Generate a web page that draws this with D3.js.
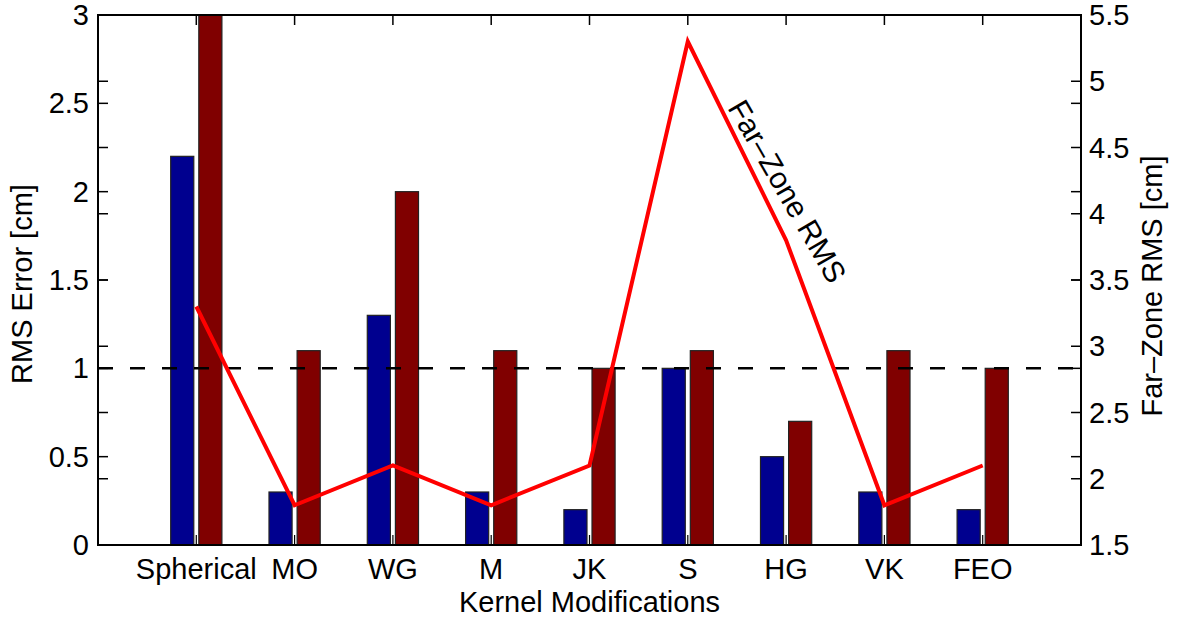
<!DOCTYPE html>
<html>
<head>
<meta charset="utf-8">
<script src="https://cdn.jsdelivr.net/npm/d3@7"></script>
<style>
  body { margin: 0; background: #fff; }
  text { font-family: "Liberation Sans", Arial, Helvetica, sans-serif; fill: #000; }
</style>
</head>
<body>
<div id="chart"></div>
<script>
// kernel modifications along the x axis
var categories = ["Spherical", "MO", "WG", "M", "JK", "S", "HG", "VK", "FEO"];
// left axis: RMS error bars [cm]
var blueValues = [2.2, 0.3, 1.3, 0.3, 0.2, 1.0, 0.5, 0.3, 0.2];
var redValues = [3.0, 1.1, 2.0, 1.1, 1.0, 1.1, 0.7, 1.1, 1.0];
// right axis: far-zone RMS line [cm]
var farZone = [3.3, 1.8, 2.1, 1.8, 2.1, 5.3, 3.8, 1.8, 2.1];
var leftTicks = [0, 0.5, 1, 1.5, 2, 2.5, 3];
var rightTicks = [1.5, 2, 2.5, 3, 3.5, 4, 4.5, 5, 5.5];
var threshold = 1;

var W = 1179, H = 620;
var margin = { top: 15, right: 98, bottom: 75, left: 98 },
  width = W - margin.left - margin.right,
  height = H - margin.top - margin.bottom;

var x = d3.scaleLinear().domain([0, 10]).range([0, width]);
var y0 = d3.scaleLinear().domain([0, 3]).range([height, 0]);
var y1 = d3.scaleLinear().domain([1.5, 5.5]).range([height, 0]);

var svg = d3
  .select("#chart")
  .append("svg")
  .attr("width", W)
  .attr("height", H)
  .append("g")
  .attr("transform", `translate(${margin.left},${margin.top})`);

var barW = 0.235, off = 0.143;

// bottom category ticks (behind bars)
svg
  .append("g")
  .selectAll("line")
  .data(categories)
  .enter()
  .append("line")
  .attr("x1", function (d, i) { return x(i + 1); })
  .attr("x2", function (d, i) { return x(i + 1); })
  .attr("y1", height)
  .attr("y2", height - 10)
  .style("stroke", "#000")
  .style("stroke-width", 1.2);

// bars
svg
  .append("g")
  .selectAll("rect")
  .data(blueValues)
  .enter()
  .append("rect")
  .attr("x", function (d, i) { return x(i + 1 - off - barW / 2); })
  .attr("width", x(barW) - x(0))
  .attr("y", function (d) { return y0(d); })
  .attr("height", function (d) { return height - y0(d); })
  .style("fill", "#00008f")
  .style("stroke", "#222")
  .style("stroke-width", 1.2);

svg
  .append("g")
  .selectAll("rect")
  .data(redValues)
  .enter()
  .append("rect")
  .attr("x", function (d, i) { return x(i + 1 + off - barW / 2); })
  .attr("width", x(barW) - x(0))
  .attr("y", function (d) { return y0(d); })
  .attr("height", function (d) { return height - y0(d); })
  .style("fill", "#800000")
  .style("stroke", "#222")
  .style("stroke-width", 1.2);

// dashed threshold
svg
  .append("line")
  .attr("x1", 0)
  .attr("x2", width)
  .attr("y1", y0(threshold))
  .attr("y2", y0(threshold))
  .style("stroke", "#000")
  .style("stroke-width", 2.5)
  .style("stroke-dasharray", "15,17");

// far-zone line
svg
  .append("path")
  .datum(farZone)
  .attr(
    "d",
    d3
      .line()
      .x(function (d, i) { return x(i + 1); })
      .y(function (d) { return y1(d); })
  )
  .style("stroke", "#ff0000")
  .style("stroke-width", 4)
  .style("fill", "none");

// axes box
svg
  .append("rect")
  .attr("x", 0)
  .attr("y", 0)
  .attr("width", width)
  .attr("height", height)
  .style("fill", "none")
  .style("stroke", "#000")
  .style("stroke-width", 2);

// ticks: both y scales on both sides, inward
function sideTicks(vals, scale) {
  [0, width].forEach(function (sx) {
    svg
      .append("g")
      .selectAll("line")
      .data(vals)
      .enter()
      .append("line")
      .attr("x1", sx)
      .attr("x2", sx === 0 ? 10 : width - 10)
      .attr("y1", function (d) { return scale(d); })
      .attr("y2", function (d) { return scale(d); })
      .style("stroke", "#000")
      .style("stroke-width", 1.5);
  });
}
sideTicks(leftTicks, y0);
sideTicks(rightTicks, y1);

// top category ticks
svg
  .append("g")
  .selectAll("line")
  .data(categories)
  .enter()
  .append("line")
  .attr("x1", function (d, i) { return x(i + 1); })
  .attr("x2", function (d, i) { return x(i + 1); })
  .attr("y1", 0)
  .attr("y2", 10)
  .style("stroke", "#000")
  .style("stroke-width", 1.5);

var fs = "29px";

// tick labels
svg
  .append("g")
  .selectAll("text")
  .data(leftTicks)
  .enter()
  .append("text")
  .attr("x", -9)
  .attr("y", function (d) { return y0(d) + 10; })
  .attr("text-anchor", "end")
  .style("font-size", fs)
  .text(function (d) { return d3.format("")(d); });

svg
  .append("g")
  .selectAll("text")
  .data(rightTicks)
  .enter()
  .append("text")
  .attr("x", width + 8)
  .attr("y", function (d) { return y1(d) + 10; })
  .attr("text-anchor", "start")
  .style("font-size", fs)
  .text(function (d) { return d3.format("")(d); });

svg
  .append("g")
  .selectAll("text")
  .data(categories)
  .enter()
  .append("text")
  .attr("x", function (d, i) { return x(i + 1); })
  .attr("y", height + 34)
  .attr("text-anchor", "middle")
  .style("font-size", fs)
  .text(function (d) { return d; });

// axis titles
svg
  .append("text")
  .attr("x", width / 2)
  .attr("y", height + 67)
  .attr("text-anchor", "middle")
  .style("font-size", fs)
  .text("Kernel Modifications");

svg
  .append("text")
  .attr("transform", `translate(${-66},${height / 2 + 4}) rotate(-90)`)
  .attr("text-anchor", "middle")
  .style("font-size", fs)
  .text("RMS Error [cm]");

svg
  .append("text")
  .attr("transform", `translate(${width + 81},${height / 2 + 6}) rotate(-90)`)
  .attr("text-anchor", "middle")
  .style("font-size", fs)
  .text("Far\u2013Zone RMS [cm]");

// annotation along the line
svg
  .append("text")
  .attr("transform", `translate(${x(6.92)},${y1(4.13)}) rotate(60)`)
  .attr("text-anchor", "middle")
  .style("font-size", "30px")
  .text("Far\u2013Zone RMS");
</script>
</body>
</html>
